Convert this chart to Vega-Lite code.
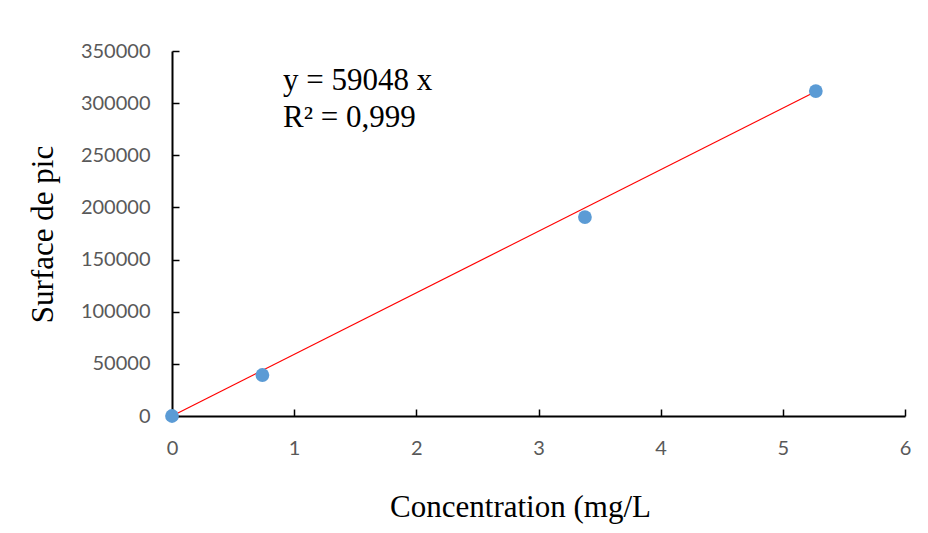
{
  "$schema": "https://vega.github.io/schema/vega-lite/v6.json",
  "autosize": "none",
  "width": 733,
  "height": 365,
  "padding": {"left": 172, "top": 51, "right": 23, "bottom": 117},
  "background": "white",
  "config": {"view": {"stroke": null}},
  "datasets": {
    "points": [
      {"c": 0, "s": 0},
      {"c": 0.74, "s": 39300},
      {"c": 3.38, "s": 190800},
      {"c": 5.27, "s": 311600}
    ],
    "trend": [
      {"c": 0, "s": 0},
      {"c": 5.27, "s": 311200}
    ],
    "labels": [
      {"c": 0.909, "s": 312600, "t": "y = 59048 x"},
      {"c": 0.909, "s": 277100, "t": "R² = 0,999"}
    ]
  },
  "layer": [
    {
      "data": {"name": "trend"},
      "mark": {"type": "line", "color": "#FF0000", "strokeWidth": 1.2, "clip": false},
      "encoding": {
        "x": {
          "field": "c", "type": "quantitative",
          "scale": {"domain": [0, 6], "nice": false, "zero": true},
          "axis": {
            "title": "Concentration (mg/L",
            "values": [0, 1, 2, 3, 4, 5, 6],
            "format": "d",
            "grid": false,
            "domainColor": "black", "domainWidth": 2,
            "tickColor": "black", "tickWidth": 1.5, "tickSize": -7,
            "labelFont": "Lato", "labelFontSize": 20, "labelColor": "#595959",
            "labelPadding": 29, "labelFlush": false,
            "titleFont": "Liberation Serif", "titleFontSize": 31, "titleFontWeight": "normal",
            "titleColor": "black", "titleX": 348, "titleY": 100, "titleBaseline": "alphabetic"
          }
        },
        "y": {
          "field": "s", "type": "quantitative",
          "scale": {"domain": [0, 350000], "nice": false},
          "axis": {
            "title": "Surface de pic",
            "values": [0, 50000, 100000, 150000, 200000, 250000, 300000, 350000],
            "format": "d",
            "grid": false,
            "domainColor": "black", "domainWidth": 2,
            "tickColor": "black", "tickWidth": 1.5, "tickSize": -7,
            "labelFont": "Lato", "labelFontSize": 20, "labelColor": "#595959",
            "labelPadding": 29,
            "titleFont": "Liberation Serif", "titleFontSize": 31, "titleFontWeight": "normal",
            "titleColor": "black", "titleX": -120, "titleY": 183, "titleAngle": -90, "titleBaseline": "alphabetic"
          }
        }
      }
    },
    {
      "data": {"name": "points"},
      "mark": {"type": "circle", "size": 190, "color": "#5B9BD5", "opacity": 1, "clip": false},
      "encoding": {
        "x": {"field": "c", "type": "quantitative"},
        "y": {"field": "s", "type": "quantitative"}
      }
    },
    {
      "data": {"name": "labels"},
      "mark": {"type": "text", "align": "left", "baseline": "alphabetic", "font": "Liberation Serif", "fontSize": 31, "color": "black"},
      "encoding": {
        "x": {"field": "c", "type": "quantitative"},
        "y": {"field": "s", "type": "quantitative"},
        "text": {"field": "t"}
      }
    }
  ]
}
